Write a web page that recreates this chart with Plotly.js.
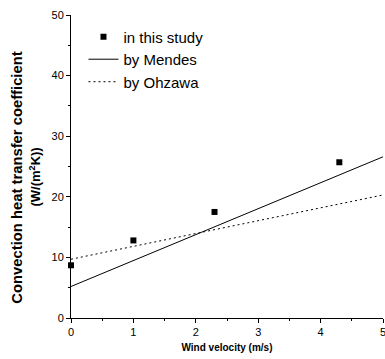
<!DOCTYPE html>
<html>
<head>
<meta charset="utf-8">
<script src="https://cdn.plot.ly/plotly-3.0.1.min.js"></script>
<style>html,body{margin:0;padding:0;background:#fff;}#chart{width:385px;height:359px;}</style>
</head>
<body>
<div id="chart"></div>
<script>
const studyVelocity = [0, 1, 2.3, 4.3];
const studyCoefficient = [8.7, 12.8, 17.5, 25.7];
const mendesVelocity = [0, 5];
const mendesCoefficient = [5.2, 26.6];
const ohzawaVelocity = [0, 5];
const ohzawaCoefficient = [9.7, 20.3];
const xTicks = [0, 1, 2, 3, 4, 5];
const yTicks = [0, 10, 20, 30, 40, 50];

const font = 'Liberation Sans, Arial, sans-serif';

const traces = [
  {x: studyVelocity, y: studyCoefficient, mode: 'markers', name: 'in this study',
   marker: {symbol: 'square', size: 6, color: '#000'}, cliponaxis: false},
  {x: mendesVelocity, y: mendesCoefficient, mode: 'lines', name: 'by Mendes',
   line: {color: '#000', width: 1}},
  {x: ohzawaVelocity, y: ohzawaCoefficient, mode: 'lines', name: 'by Ohzawa',
   line: {color: '#000', width: 1, dash: '2px,3px'}}
];

const layout = {
  width: 385, height: 359,
  margin: {l: 71, r: 2, t: 15, b: 41},
  paper_bgcolor: '#fff', plot_bgcolor: '#fff',
  font: {family: font, color: '#000'},
  showlegend: true,
  legend: {x: 0.04, y: 0.982, xanchor: 'left', yanchor: 'top', bgcolor: 'rgba(0,0,0,0)',
           font: {size: 15, family: font, color: '#000'}, tracegroupgap: 0, itemwidth: 30},
  xaxis: {range: [0, 5], tickvals: xTicks, ticks: 'outside', ticklen: 4, tickwidth: 1, tickcolor: '#000',
          showline: true, linecolor: '#000', linewidth: 1, showgrid: false, zeroline: false,
          tickfont: {size: 11, family: font}, ticklabeloverflow: 'allow',
          minor: {dtick: 0.5, ticks: 'outside', ticklen: 2, tickcolor: '#000', showgrid: false},
          title: {text: '<b>Wind velocity (m/s)</b>', font: {size: 10, family: font}, standoff: 6}},
  yaxis: {range: [0, 50], tickvals: yTicks, ticks: 'outside', ticklen: 4, tickwidth: 1, tickcolor: '#000',
          showline: true, linecolor: '#000', linewidth: 1, showgrid: false, zeroline: false,
          tickfont: {size: 11, family: font},
          minor: {dtick: 5, ticks: 'outside', ticklen: 2, tickcolor: '#000', showgrid: false}},
  annotations: [
    {text: '<b>Convection heat transfer coefficient</b>', xref: 'paper', yref: 'paper',
     x: -0.172, y: 0.464, textangle: -90, showarrow: false, font: {size: 14.8, family: font},
     xanchor: 'center', yanchor: 'middle'},
    {text: '<b>(W/(m<sup>2</sup>K))</b>', xref: 'paper', yref: 'paper',
     x: -0.115, y: 0.464, textangle: -90, showarrow: false, font: {size: 13, family: font},
     xanchor: 'center', yanchor: 'middle'}
  ]
};

Plotly.newPlot('chart', traces, layout, {displayModeBar: false, staticPlot: true});
</script>
</body>
</html>
